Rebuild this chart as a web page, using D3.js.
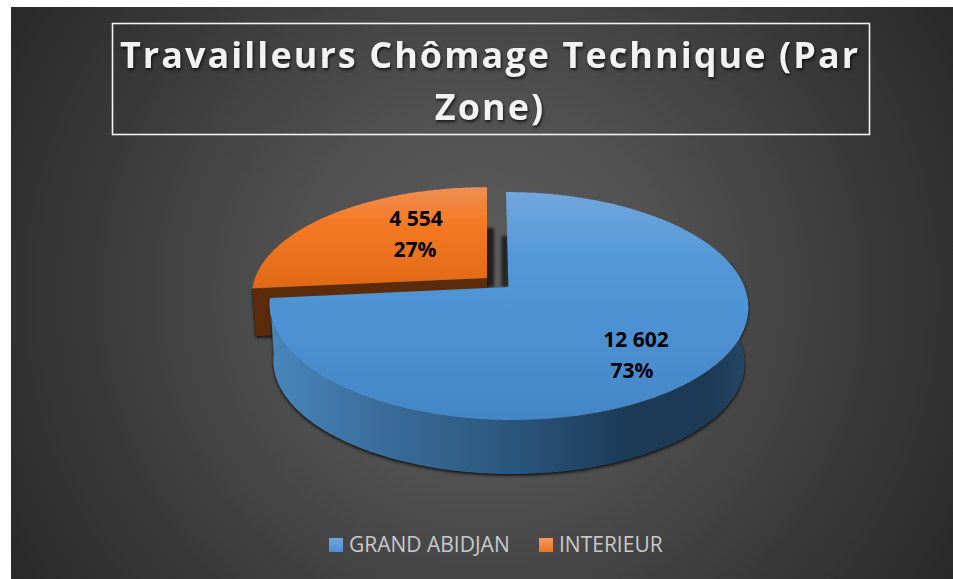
<!DOCTYPE html>
<html><head><meta charset="utf-8">
<script src="https://cdnjs.cloudflare.com/ajax/libs/d3/7.8.5/d3.min.js"></script>
<style>html,body{margin:0;padding:0;background:#fff}svg{display:block}text{font-family:"Open Sans",sans-serif}filter{color-interpolation-filters:sRGB}</style>
</head><body><svg id="c" width="953" height="579"></svg>
<script>
const categories = ["GRAND ABIDJAN", "INTERIEUR"];
const values = [12602, 4554];
const titleLines = ["Travailleurs Chômage Technique (Par", "Zone)"];

const svg = d3.select("#c");
const defs = svg.append("defs");
function grad(id, attrs, stops, tag="linearGradient"){
  const g = defs.append(tag).attr("id", id).attr("gradientUnits","userSpaceOnUse");
  Object.entries(attrs).forEach(([k,v])=>g.attr(k,v));
  stops.forEach(([o,c])=>g.append("stop").attr("offset",o).attr("stop-color",c));
}
grad("bg",{cx:482,cy:293,r:560},[[0,"#5e5e5e"],[.35,"#505050"],[.7,"#393939"],[1,"#282828"]],"radialGradient");
grad("blueTop",{x1:0,y1:192,x2:0,y2:420},[[0,"#72a6dc"],[.3,"#5298d9"],[1,"#4487c7"]]);
grad("orangeTop",{x1:0,y1:186,x2:0,y2:290},[[0,"#ee8f56"],[.35,"#f47a25"],[1,"#e06815"]]);
grad("blueWall",{x1:270,y1:0,x2:748,y2:0},[[0,"#4a86bc"],[.2,"#3c709f"],[.5,"#2b577e"],[.75,"#1c3a56"],[.92,"#1d3a55"],[1,"#274765"]]);
grad("blueSw",{x1:0,y1:0,x2:0,y2:1},[[0,"#6ea6dc"],[1,"#4a8fd2"]]);
grad("orangeSw",{x1:0,y1:0,x2:0,y2:1},[[0,"#f29a62"],[1,"#f0731f"]]);
defs.select("#blueSw").attr("gradientUnits","objectBoundingBox");
defs.select("#orangeSw").attr("gradientUnits","objectBoundingBox");

const f1 = defs.append("filter").attr("id","ds").attr("x","-10%").attr("y","-10%").attr("width","120%").attr("height","130%");
f1.append("feDropShadow").attr("dx",0).attr("dy",1.5).attr("stdDeviation",1.8).attr("flood-color","#000").attr("flood-opacity",.85);
const f2 = defs.append("filter").attr("id","ts").attr("x","-5%").attr("y","-20%").attr("width","110%").attr("height","150%");
f2.append("feDropShadow").attr("dx",1).attr("dy",2).attr("stdDeviation",1.5).attr("flood-color","#000").attr("flood-opacity",.7);
const f3 = defs.append("filter").attr("id","blur").attr("x","-100%").attr("y","-20%").attr("width","300%").attr("height","140%");
f3.append("feGaussianBlur").attr("stdDeviation",1.6);

svg.append("rect").attr("x",11).attr("y",7).attr("width",942).attr("height",572).attr("fill","url(#bg)");

// title
svg.append("rect").attr("x",112.5).attr("y",23.5).attr("width",757).attr("height",111)
  .attr("fill","none").attr("stroke","#f2f2f2").attr("stroke-width",1.6);
svg.append("g").attr("filter","url(#ts)").selectAll("text").data(titleLines).join("text")
  .attr("x",490).attr("y",(d,i)=>68+i*52).attr("text-anchor","middle")
  .attr("font-size",36).attr("font-weight",700).attr("letter-spacing",2.05).attr("fill","#f2f2f2").text(d=>d);

// pie
const pie = d3.pie().sort(null).value(d=>d)(values);
const total = d3.sum(values);
const k = 0.1667;
const geom = [
  {cx:508.5, cy:287, R:236, A:110.8, skew:0.027, depth:56.5, fill:"url(#blueTop)", wall:"url(#blueWall)"},
  {cx:487, cy:278, R:232, A:106, skew:0, depth:48, fill:"url(#orangeTop)", wall:"#5c2b09"}
];
function proj(g, th, r=1, dy=0){
  const u = Math.sin(th)*r, v = -Math.cos(th)*r, w = 1-k*v;
  const y = g.A*v/w;
  return [g.cx + g.R*u/w + g.skew*y, g.cy + y + dy];
}
const line = d3.line();
function arcPts(g, a0, a1, r=1, dy=0){
  const n = Math.ceil(Math.abs(a1-a0)/(Math.PI/180));
  return d3.range(n+1).map(i=>proj(g, a0+(a1-a0)*i/n, r, dy));
}
const layer = svg.append("g");
// gap shadows
const [bg, og] = geom;
layer.append("rect").attr("x",og.cx-2).attr("y",228).attr("width",9).attr("height",bg.cy-228).attr("fill","#111").attr("opacity",.8).attr("filter","url(#blur)");
layer.append("rect").attr("x",bg.cx-7).attr("y",236).attr("width",7).attr("height",bg.cy-236).attr("fill","#111").attr("opacity",.75).attr("filter","url(#blur)");

// orange: wall then top
{
  const d = pie[1], g = og, a0 = d.startAngle, a1 = d.endAngle;
  const end = proj(g,a0), endB = proj(g,a0,0.985,g.depth), apexB=[g.cx,g.cy+g.depth];
  layer.append("path").attr("d",line([[g.cx,g.cy],end,endB,apexB])+"Z").attr("fill",g.wall).attr("filter","url(#ds)");
  layer.append("path").attr("d",line([[g.cx,g.cy],...arcPts(g,a0,a1)])+"Z").attr("fill",g.fill);
}
// blue: wall then top
{
  const d = pie[0], g = bg, a0 = d.startAngle, a1 = d.endAngle;
  const ws = Math.PI*0.42;
  const top = arcPts(g,ws,a1), bot = arcPts(g,a1,ws,0.985,g.depth);
  layer.append("path").attr("d",line([...top,...bot])+"Z").attr("fill",g.wall).attr("filter","url(#ds)");
  layer.append("path").attr("d",line([[g.cx,g.cy],...arcPts(g,a0,a1)])+"Z").attr("fill",g.fill);
}

// data labels
const fmt = d3.formatLocale({thousands:"\u00a0",grouping:[3],decimal:",",currency:["",""]}).format(",d");
const labelAt = [[636,347],[416,226]];
pie.forEach((d,i)=>{
  const t = svg.append("text").attr("text-anchor","middle").attr("font-weight",700).attr("font-size",21).attr("fill","#000");
  t.append("tspan").attr("x",labelAt[i][0]).attr("y",labelAt[i][1]).text(fmt(d.value));
  t.append("tspan").attr("x",labelAt[i][0]-(i?1:4)).attr("y",labelAt[i][1]+30.5).text(Math.round(d.value/total*100)+"%");
});

// legend
const legX = [329,539], sw=["url(#blueSw)","url(#orangeSw)"];
categories.forEach((c,i)=>{
  svg.append("rect").attr("x",legX[i]).attr("y",538).attr("width",14).attr("height",14).attr("fill",sw[i]);
  svg.append("text").attr("x",legX[i]+20).attr("y",552).attr("font-size",21).attr("fill","#c9c9c9").text(c);
});
</script></body></html>
